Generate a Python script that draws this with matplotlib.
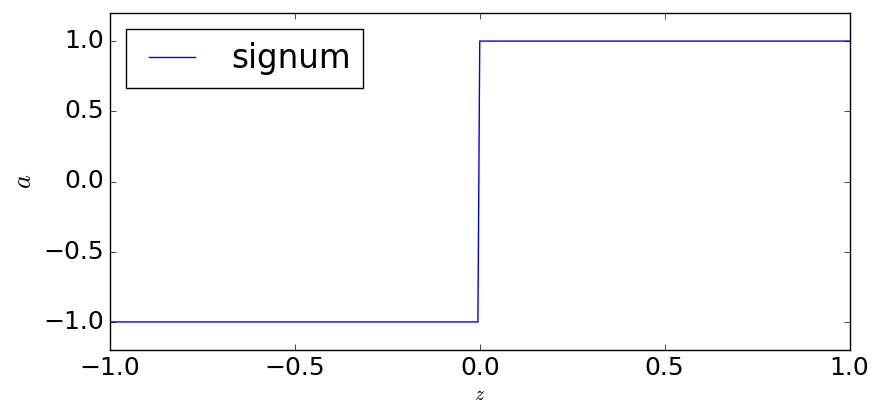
import matplotlib
matplotlib.use("Agg")
import matplotlib.pyplot as plt

plt.style.use("classic")

z = [-1.0, -0.005, 0.0, 1.0]
a = [-1.0, -1.0, 1.0, 1.0]
xticks = [-1.0, -0.5, 0.0, 0.5, 1.0]
yticks = [-1.0, -0.5, 0.0, 0.5, 1.0]

fig = plt.figure(figsize=(8.73, 4.07), dpi=100)
ax = fig.add_axes([110/873, 57/407, 739.5/873, 337/407])
ax.plot(z, a, color="b", lw=1, label="signum")
ax.set_xlim(-1, 1)
ax.set_ylim(-1.2, 1.2)
ax.set_xticks(xticks)
ax.set_yticks(yticks)
ax.tick_params(labelsize=18)
ax.set_xlabel("$z$", fontsize=14, labelpad=4)
ax.set_ylabel("$a$", fontsize=19)
ax.legend(loc="upper left", fontsize=23.5)
fig.savefig("out.png", dpi=100)
